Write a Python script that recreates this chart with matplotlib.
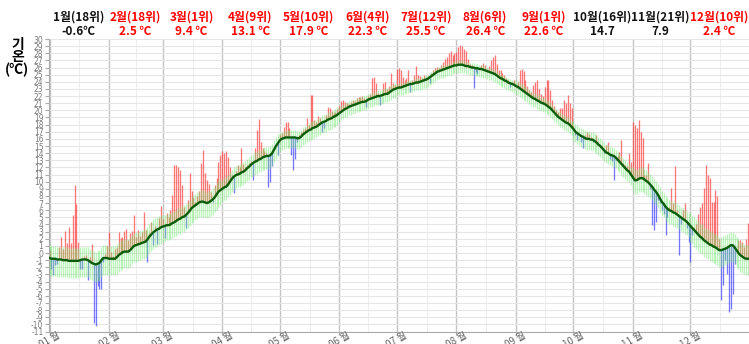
import matplotlib
matplotlib.use("Agg")
import matplotlib.pyplot as plt
from matplotlib.transforms import offset_copy
import numpy as np

plt.rcParams['font.family'] = ['Noto Sans CJK KR', 'DejaVu Sans']
plt.rcParams['axes.unicode_minus'] = False

# 평년 일평균기온 (월별, 1일부터)
normal_jan = [-0.7, -0.8, -0.8, -0.8, -0.9, -0.9, -0.9, -1.0, -1.0, -1.0,
              -1.1, -1.1, -1.1, -1.1, -1.1, -1.1, -1.0, -0.9, -0.9, -0.9,
              -1.0, -1.2, -1.4, -1.5, -1.6, -1.5, -1.4, -1.0, -0.7, -0.7, -0.7]
normal_feb = [-0.8, -0.8, -0.8, -0.8, -0.6, -0.3, -0.1, 0.1, 0.2, 0.2,
              0.2, 0.4, 0.7, 1.0, 1.1, 1.2, 1.3, 1.4, 1.5, 1.6,
              1.9, 2.3, 2.6, 2.9, 3.1, 3.3, 3.4, 3.6]
normal_mar = [3.7, 3.8, 3.9, 3.9, 4.0, 4.2, 4.3, 4.5, 4.7, 4.8,
              5.0, 5.1, 5.3, 5.6, 5.9, 6.3, 6.5, 6.7, 6.9, 7.1,
              7.2, 7.2, 7.1, 7.0, 7.1, 7.3, 7.5, 7.8, 8.2, 8.6, 8.8]
normal_apr = [9.0, 9.2, 9.3, 9.6, 10.0, 10.4, 10.7, 10.9, 11.0, 11.1,
              11.3, 11.4, 11.6, 11.9, 12.1, 12.4, 12.6, 12.8, 12.9, 13.1,
              13.2, 13.4, 13.5, 13.6, 13.6, 13.7, 14.0, 14.5, 15.0, 15.4]
normal_may = [15.8, 16.0, 16.1, 16.2, 16.2, 16.2, 16.2, 16.2, 16.2, 16.1,
              16.1, 16.3, 16.6, 16.8, 17.0, 17.2, 17.3, 17.5, 17.6, 17.7,
              17.9, 18.1, 18.3, 18.4, 18.5, 18.7, 18.8, 18.9, 19.1, 19.2, 19.4]
normal_jun = [19.6, 19.8, 20.0, 20.2, 20.3, 20.5, 20.6, 20.7, 20.8, 20.9,
              21.0, 21.1, 21.2, 21.2, 21.3, 21.5, 21.6, 21.7, 21.8, 21.9,
              22.0, 22.0, 22.1, 22.2, 22.3, 22.3, 22.5, 22.7, 22.9, 23.0]
normal_jul = [23.1, 23.2, 23.2, 23.3, 23.4, 23.5, 23.6, 23.7, 23.7, 23.8,
              23.9, 23.9, 24.0, 24.1, 24.2, 24.3, 24.4, 24.6, 24.8, 25.0,
              25.2, 25.4, 25.5, 25.6, 25.7, 25.8, 25.9, 26.0, 26.1, 26.2, 26.3]
normal_aug = [26.3, 26.4, 26.4, 26.4, 26.3, 26.2, 26.2, 26.1, 26.0, 26.0,
              25.9, 25.9, 25.8, 25.8, 25.7, 25.6, 25.5, 25.4, 25.3, 25.2,
              25.1, 24.9, 24.7, 24.5, 24.4, 24.2, 24.1, 23.9, 23.8, 23.7, 23.6]
normal_sep = [23.4, 23.3, 23.1, 22.9, 22.7, 22.5, 22.3, 22.1, 21.9, 21.7,
              21.6, 21.4, 21.3, 21.1, 21.0, 20.9, 20.7, 20.5, 20.3, 20.0,
              19.7, 19.4, 19.1, 18.9, 18.7, 18.5, 18.3, 18.2, 18.0, 17.7]
normal_oct = [17.4, 17.0, 16.8, 16.6, 16.4, 16.3, 16.1, 16.0, 16.0, 15.9,
              15.9, 15.7, 15.5, 15.2, 15.0, 14.7, 14.4, 14.1, 14.0, 13.8,
              13.7, 13.6, 13.4, 13.1, 12.8, 12.5, 12.2, 11.9, 11.6, 11.4, 11.0]
normal_nov = [10.6, 10.2, 10.2, 10.4, 10.5, 10.5, 10.3, 10.1, 9.9, 9.6,
              9.3, 8.9, 8.6, 8.2, 7.7, 7.2, 6.9, 6.5, 6.2, 6.0,
              5.9, 5.7, 5.6, 5.4, 5.2, 5.0, 4.8, 4.6, 4.4, 4.1]
normal_dec = [3.8, 3.5, 3.2, 2.9, 2.6, 2.3, 2.1, 1.8, 1.6, 1.4,
              1.2, 1.1, 0.9, 0.8, 0.6, 0.4, 0.4, 0.5, 0.6, 0.7,
              0.9, 1.1, 1.1, 0.8, 0.4, 0.0, -0.3, -0.5, -0.7, -0.8, -0.8]

# 올해 일평균기온
temp_jan = [0.4, -2.2, -3.1, -1.7, -1.6, 0.9, 2.2, 0.5, 3.1, 1.4,
            3.7, 1.4, 5.3, 9.6, 6.9, 1.5, -2.2, -2.2, -0.4, -0.3,
            -3.8, -0.6, 1.2, -9.8, -10.2, -4.6, -5.1, -5.1, -1.2, -0.2, 1.0]
temp_feb = [3.0, 0.2, -0.4, 0.6, 0.8, 3.0, 2.1, 2.3, 3.1, 3.4,
            1.8, 2.8, 3.1, 5.3, 2.3, 3.2, 2.4, 3.0, 5.8, 3.2,
            -1.2, 2.8, 4.4, 1.1, 3.8, 1.2, 4.9, 6.6]
temp_mar = [4.7, 2.1, 5.6, 5.0, 6.0, 8.1, 12.3, 12.3, 12.1, 11.6,
            9.5, 6.5, 3.5, 7.5, 11.2, 8.7, 7.8, 7.1, 8.0, 8.7,
            12.6, 14.4, 11.2, 10.2, 9.7, 8.6, 7.2, 9.5, 10.5, 12.8, 13.7]
temp_apr = [14.3, 14.0, 14.3, 13.5, 12.0, 11.0, 8.4, 11.5, 12.3, 12.0,
            14.7, 12.5, 12.0, 12.4, 12.6, 12.9, 10.2, 14.7, 17.3, 18.8,
            15.6, 14.7, 14.3, 14.0, 9.3, 10.0, 12.2, 14.9, 15.3, 13.7]
temp_may = [16.5, 16.8, 17.6, 18.4, 18.4, 17.5, 13.7, 11.6, 13.2, 15.5,
            16.6, 16.9, 17.2, 17.5, 18.9, 18.0, 22.2, 22.1, 18.7, 18.3,
            19.2, 18.9, 17.0, 17.5, 19.3, 20.5, 20.3, 19.9, 19.6, 19.8, 20.2]
temp_jun = [20.6, 21.3, 21.5, 21.2, 21.0, 20.9, 21.2, 21.5, 21.3, 21.8,
            21.9, 21.9, 22.0, 21.7, 20.5, 22.0, 22.3, 24.5, 24.7, 23.9,
            22.5, 20.8, 22.4, 23.9, 24.0, 23.0, 23.4, 25.2, 23.8, 23.5]
temp_jul = [25.8, 25.9, 25.6, 24.7, 24.2, 24.5, 25.6, 22.6, 24.3, 25.0,
            26.2, 25.0, 24.8, 24.6, 24.9, 24.7, 24.8, 23.8, 25.2, 25.6,
            26.0, 26.1, 26.0, 26.4, 26.8, 27.2, 27.5, 28.0, 28.3, 27.8, 28.0]
temp_aug = [28.2, 28.9, 29.2, 29.0, 28.6, 28.3, 27.2, 26.5, 26.3, 23.1,
            25.4, 25.1, 26.0, 26.4, 26.7, 26.3, 25.8, 26.2, 27.1, 27.5,
            27.8, 26.5, 25.7, 25.7, 25.2, 24.9, 24.6, 24.3, 23.3, 24.0, 24.2]
temp_sep = [23.6, 24.0, 25.7, 25.8, 25.5, 24.3, 23.4, 22.9, 22.6, 23.6,
            24.0, 24.2, 23.0, 22.3, 22.0, 23.3, 24.2, 24.3, 22.8, 21.5,
            20.6, 20.0, 19.8, 20.3, 20.3, 21.4, 21.0, 22.2, 21.0, 20.3]
temp_oct = [17.8, 16.5, 15.9, 16.8, 15.5, 14.7, 16.6, 17.0, 16.7, 16.2,
            15.5, 15.9, 16.6, 15.5, 14.8, 15.0, 14.0, 15.1, 15.6, 13.2,
            12.9, 10.2, 13.0, 13.6, 14.2, 15.9, 12.6, 12.4, 12.2, 14.0, 12.8]
temp_nov = [18.4, 18.0, 17.5, 18.6, 16.9, 16.1, 11.0, 11.0, 12.6, 9.0,
            3.9, 3.2, 4.4, 7.5, 7.0, 6.0, 5.5, 2.5, 5.0, 6.5,
            9.1, 7.0, 12.2, 6.0, -0.3, 4.0, 6.0, 7.0, 3.5, 1.5]
temp_dec = [-1.2, 2.5, 3.5, 4.0, 5.5, 6.5, 7.0, 9.1, 12.3, 11.0,
            10.5, 7.2, 7.2, 8.8, 8.0, 2.0, -6.6, -4.5, -1.0, -3.0,
            -8.2, -7.8, -5.7, -1.5, 0.5, 1.8, 1.8, 1.5, 0.8, 2.0, 4.2]

# 월별 평년 범위 (평년값 위/아래 폭)
band_upper = [1.8, 1.8, 1.6, 1.3, 1.0, 0.8, 0.6, 0.6, 0.8, 1.1, 1.5, 1.9]
band_lower = [2.4, 2.3, 2.1, 1.8, 1.5, 1.2, 1.1, 1.1, 1.2, 1.5, 1.9, 2.3]

tick_labels = ['01 월', '02 월', '03 월', '04 월', '05 월', '06 월',
               '07 월', '08 월', '09 월', '10 월', '11 월', '12 월']
head_rank = ['1월(18위)', '2월(18위)', '3월(1위)', '4월(9위)', '5월(10위)', '6월(4위)',
             '7월(12위)', '8월(6위)', '9월(1위)', '10월(16위)', '11월(21위)', '12월(10위)']
head_value = ['-0.6℃', '2.5 ℃', '9.4 ℃', '13.1 ℃', '17.9 ℃', '22.3 ℃',
              '25.5 ℃', '26.4 ℃', '22.6 ℃', '14.7', '7.9', '2.4 ℃']
head_color = ['#111111', 'red', 'red', 'red', 'red', 'red',
              'red', 'red', 'red', '#111111', '#111111', 'red']

normals = [normal_jan, normal_feb, normal_mar, normal_apr, normal_may, normal_jun,
           normal_jul, normal_aug, normal_sep, normal_oct, normal_nov, normal_dec]
temps = [temp_jan, temp_feb, temp_mar, temp_apr, temp_may, temp_jun,
         temp_jul, temp_aug, temp_sep, temp_oct, temp_nov, temp_dec]

normal = np.concatenate(normals)
temp = np.concatenate(temps)
days = np.arange(1, len(normal) + 1)
lengths = [len(m) for m in normals]
starts = np.cumsum([1] + lengths[:-1])
hi = np.concatenate([[band_upper[i]] * n for i, n in enumerate(lengths)])
lo = np.concatenate([[band_lower[i]] * n for i, n in enumerate(lengths)])

fig = plt.figure(figsize=(7.49, 3.44), dpi=100)
ax = fig.add_axes([49 / 749, 1 - 331.5 / 344, 700 / 749, 292.5 / 344])

# 그리드
ax.set_ylim(-11, 30)
ax.set_xlim(0.7, 365.5)
ax.set_yticks(range(-11, 31))
ax.grid(axis='y', color='#e6e6e6', lw=0.8, zorder=0)
for s, n in zip(starts, lengths):
    ax.axvline(s, color='#c4c4c4', lw=1.0, zorder=1)
    ax.axvline(s + n / 2, color='#eeeeee', lw=0.8, zorder=0)

# 평년 대비 높고 낮은 날
up = temp >= normal
dn = ~up
hot = ax.vlines(days[up], normal[up], temp[up], colors='#ff3030', alpha=0.65, lw=0.95, zorder=2)
cold = ax.vlines(days[dn], normal[dn], temp[dn], colors='#3030ff', alpha=0.65, lw=0.95, zorder=2)

# 평년 범위
band = ax.vlines(days, normal - lo, normal + hi, colors='#6fea6f', alpha=0.45, lw=0.95, zorder=3)
for coll in (hot, cold, band):
    coll.set_snap(True)
ax.plot(days, normal, color='#0b5d0b', lw=1.7, zorder=4)

ax.set_xticks(starts)
ax.set_xticklabels([])
ax.tick_params(axis='y', labelsize=5.5, labelcolor='#7a7a7a', color='#aaaaaa', length=3, pad=1)
ax.tick_params(axis='x', color='#aaaaaa', length=2, pad=0)
for lab in ax.get_yticklabels():
    lab.set_fontfamily('DejaVu Sans')
for side in ['top', 'right']:
    ax.spines[side].set_visible(False)
for side in ['left', 'bottom']:
    ax.spines[side].set_color('#aaaaaa')

# x축 월 라벨 (기울임)
below = offset_copy(ax.get_xaxis_transform(), fig=fig, y=-9, units='dots')
for s, lab in zip(starts, tick_labels):
    ax.text(s, 0, lab, transform=below, rotation=30, rotation_mode='anchor',
            ha='center', va='center', fontsize=7, color='#666666', clip_on=False)

# 월별 순위와 평균기온
trans = ax.get_xaxis_transform()
for i in range(12):
    cx = starts[i] + lengths[i] / 2 - 0.5
    ax.text(cx, 1.076, head_rank[i], transform=trans, ha='center', va='center',
            fontsize=8.5, fontweight='bold', color=head_color[i])
    ax.text(cx, 1.024, head_value[i], transform=trans, ha='center', va='center',
            fontsize=8.5, fontweight='bold', color=head_color[i])

fig.text(18 / 749, 1 - 45 / 344, '기', ha='center', va='center', fontsize=10, fontweight='bold')
fig.text(18 / 749, 1 - 57 / 344, '온', ha='center', va='center', fontsize=10, fontweight='bold')
fig.text(17 / 749, 1 - 70 / 344, '(℃)', ha='center', va='center', fontsize=10, fontweight='bold')

fig.savefig('out.png', dpi=100)
